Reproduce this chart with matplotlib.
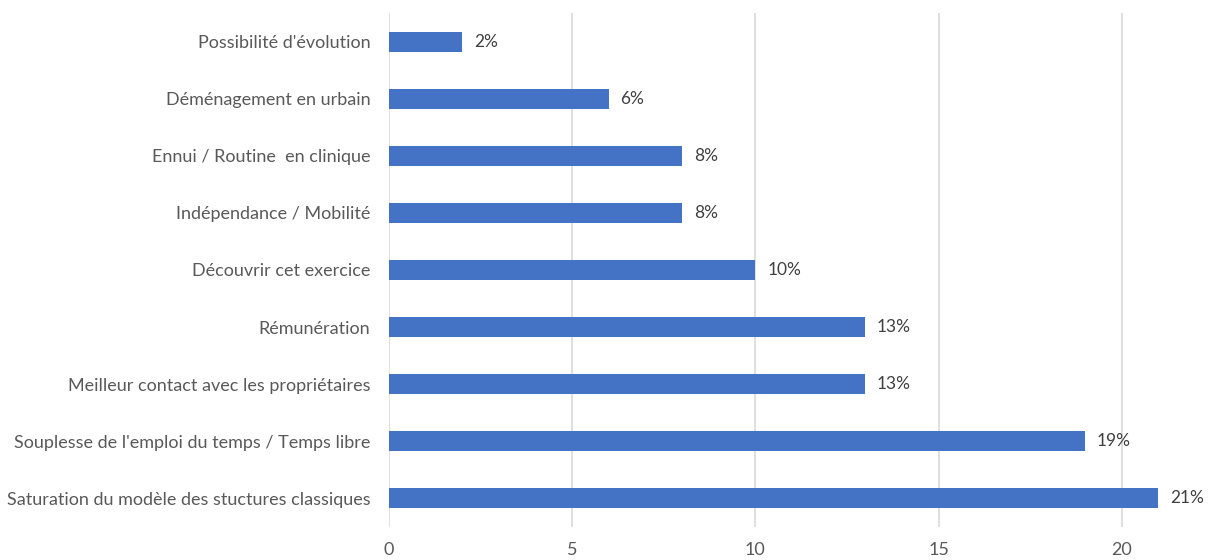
import matplotlib
matplotlib.use("Agg")
import matplotlib.pyplot as plt

categories = [
    "Saturation du modèle des stuctures classiques",
    "Souplesse de l'emploi du temps / Temps libre",
    "Meilleur contact avec les propriétaires",
    "Rémunération",
    "Découvrir cet exercice",
    "Indépendance / Mobilité",
    "Ennui / Routine  en clinique",
    "Déménagement en urbain",
    "Possibilité d'évolution",
]
values = [21, 19, 13, 13, 10, 8, 8, 6, 2]
labels = ["21%", "19%", "13%", "13%", "10%", "8%", "8%", "6%", "2%"]
xticks = [0, 5, 10, 15, 20]

plt.rcParams['font.family'] = ['Lato', 'DejaVu Sans']

fig = plt.figure(figsize=(12.09, 5.60), dpi=100)
ax = fig.add_axes([389/1209, 1-527/560, (1195-389)/1209, (527-13)/560])

y = list(range(len(categories)))
ax.barh(y, values, height=0.35, color="#4472C4", zorder=3)
for yi, v, lab in zip(y, values, labels):
    ax.annotate(lab, (v, yi), xytext=(8.5, 0), textcoords="offset points",
                va="center", ha="left", fontsize=12.5, color="#404040")

ax.set_ylim(-0.5, len(categories) - 0.5)
ax.set_xlim(0, 22)
ax.set_xticks(xticks)
ax.set_yticks(y)
ax.set_yticklabels(categories)
ax.tick_params(axis="y", length=0, pad=13.5, labelsize=13, labelcolor="#595959")
ax.tick_params(axis="x", length=0, pad=11, labelsize=13, labelcolor="#595959")
ax.grid(axis="x", color="#D9D9D9", linewidth=1.2, zorder=0)
for s in ax.spines.values():
    s.set_visible(False)

fig.savefig("out.png", dpi=100, facecolor="white")
